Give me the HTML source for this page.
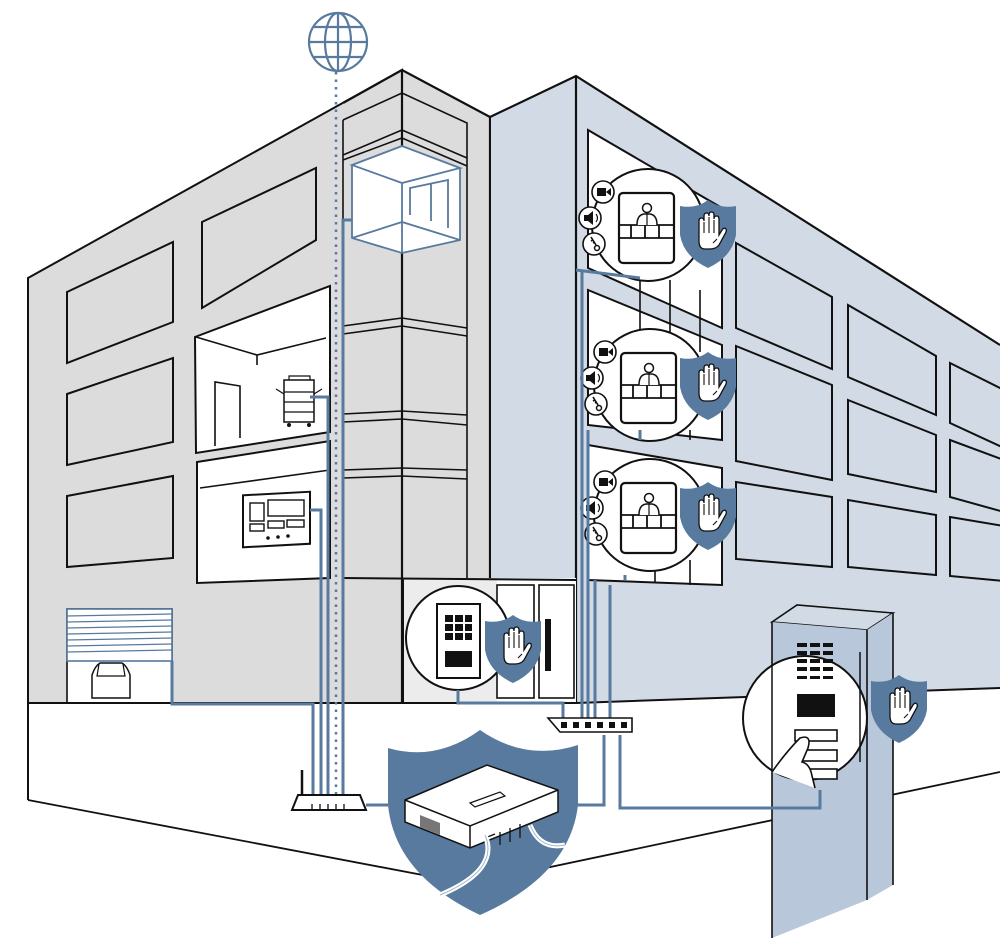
<!DOCTYPE html>
<html><head><meta charset="utf-8"><style>
html,body{margin:0;padding:0;background:#fff;}
svg{display:block;}
</style></head><body>
<svg width="1000" height="938" viewBox="0 0 1000 938" xmlns="http://www.w3.org/2000/svg" font-family="Liberation Sans, sans-serif">
<defs>
<g id="hand">
<path d="M-9,4 L-9,-10 Q-9,-13 -6.5,-13 Q-4,-13 -4,-10 L-4,-15 Q-4,-18 -1.5,-18 Q1,-18 1,-15 L1,-16 Q1,-19 3.5,-19 Q6,-19 6,-16 L6,-12 Q6,-15 8.5,-15 Q11,-15 11,-12 L11,4 L14,-1 Q16,-4 18,-2 Q19,0 17,3 L11,14 Q8,18 2,18 L-3,18 Q-9,18 -9,10 Z" fill="#fff" stroke="#111" stroke-width="1.3"/>
<path d="M-4,-9 L-4,2 M1,-14 L1,2 M6,-11 L6,2 M5,12 L9,8" stroke="#111" stroke-width="1.1" fill="none"/>
</g>
<g id="shield">
<path d="M-28,-27 Q-12,-24 0,-33 Q12,-24 28,-27 L28,2 Q24,24 0,35 Q-24,24 -28,2 Z" fill="#587a9f"/>
</g>
<g id="unit">
<circle r="56" fill="#fff" stroke="#111" stroke-width="2"/>
<rect x="-29" y="-32" width="55" height="70" rx="4" fill="#fff" stroke="#111" stroke-width="2.2"/>
<path d="M-29,0 L26,0 M-29,13 L26,13 M-17,0 L-17,13 M-3,0 L-3,13 M11,0 L11,13" stroke="#111" stroke-width="1.8" fill="none"/>
<circle cx="-1" cy="-17" r="4.5" fill="#fff" stroke="#111" stroke-width="1.5"/>
<path d="M-11,0 Q-11,-10 -4,-11 L2,-11 Q9,-10 9,0" fill="#fff" stroke="#111" stroke-width="1.5"/>
<path d="M-1,-12 L-1,0" stroke="#111" stroke-width="1.2"/>
<circle cx="-45" cy="-33" r="11" fill="#fff" stroke="#111" stroke-width="1.6"/>
<rect x="-51" y="-37" width="9" height="8" fill="#111"/><path d="M-42,-33 L-37,-37 L-37,-29 Z" fill="#111"/>
<circle cx="-58" cy="-7" r="11" fill="#fff" stroke="#111" stroke-width="1.6"/>
<path d="M-64,-10 L-60,-10 L-55,-14 L-55,0 L-60,-4 L-64,-4 Z" fill="#111"/><path d="M-52,-11 Q-49,-7 -52,-3" stroke="#111" fill="none" stroke-width="1.2"/>
<circle cx="-54" cy="19" r="11" fill="#fff" stroke="#111" stroke-width="1.6"/>
<path d="M-57,12 L-52,20 M-57,16 L-55,15 M-55,18 L-53,17" stroke="#111" stroke-width="1.6" fill="none"/><circle cx="-51" cy="23" r="2.5" fill="none" stroke="#111" stroke-width="1.5"/>
</g>
</defs>

<polygon points="28,278 402,70 402,703 28,703" fill="#dcdcdc" stroke="#111" stroke-width="2"/>
<polygon points="343,103 402,70 490,117 490,703 343,703" fill="#dcdcdc"/>
<path d="M343,103 L402,70 L490,117 M402,70 L402,703 M490,117 L490,578" stroke="#111" stroke-width="2.2" fill="none"/>
<path d="M343,120 L402,93 L467,123 L467,578 M343,120 L343,578" stroke="#111" stroke-width="1.6" fill="none"/>
<path d="M343,155 L402,130 L467,158 M343,160 L402,138 L467,166" stroke="#111" stroke-width="1.6" fill="none"/>
<path d="M343,326 L402,318 L467,328 M343,334 L402,326 L467,336" stroke="#111" stroke-width="1.6" fill="none"/>
<path d="M343,414 L402,411 L467,415 M343,422 L402,419 L467,425" stroke="#111" stroke-width="1.6" fill="none"/>
<path d="M343,470 L402,468 L467,470 M343,478 L402,476 L467,479" stroke="#111" stroke-width="1.6" fill="none"/>
<polygon points="352,165 402,146 460,168 460,240 402,253 352,238" fill="#fff"/>
<path d="M352,165 L402,146 L460,168 L402,183 Z M352,165 L352,238 L402,253 L460,240 L460,168 M402,183 L402,253 M352,238 L402,222 L460,240" stroke="#587a9f" stroke-width="1.8" fill="none"/>
<path d="M410,215 L410,188 L448,180 L448,228 M431,184 L431,221" stroke="#587a9f" stroke-width="1.8" fill="none"/>

<polygon points="490,117 576,76 1000,345 1000,688 576,703 490,703" fill="#d2dbe5"/>
<path d="M490,117 L576,76 L1000,345 M576,76 L576,703" stroke="#111" stroke-width="2.2" fill="none"/>
<path d="M490,117 L490,703" stroke="#111" stroke-width="2"/>

<g fill="none" stroke="#111" stroke-width="2">
<polygon points="67,292 173,242 173,322 67,363"/>
<polygon points="202,222 316,168 316,240 202,308"/>
<polygon points="67,394 173,358 173,442 67,465"/>
<polygon points="67,496 173,476 173,558 67,567"/>
</g>
<polygon points="195,337 330,286 330,432 196,453" fill="#fff" stroke="#111" stroke-width="2"/>
<path d="M196,337 L257,355 L326,338 M257,355 L257,365" stroke="#111" stroke-width="1.6" fill="none"/>
<path d="M215,446 L215,382 L240,386 L240,438" stroke="#111" stroke-width="1.6" fill="none"/>
<rect x="284" y="380" width="30" height="42" fill="#fff" stroke="#111" stroke-width="1.5"/>
<path d="M284,392 L314,392 M284,402 L314,402 M284,412 L314,412 M289,380 L289,376 L310,376 L310,380 M276,389 L284,394 M322,389 L314,394" stroke="#111" stroke-width="1.2" fill="none"/>
<circle cx="289" cy="425" r="2" fill="#111"/><circle cx="309" cy="425" r="2" fill="#111"/>
<polygon points="197,462 330,441 330,578 197,583" fill="#fff" stroke="#111" stroke-width="2"/>
<path d="M200,488 L330,470" stroke="#111" stroke-width="1.6"/>
<rect x="243" y="494" width="67" height="52" fill="#fff" stroke="#111" stroke-width="2" transform="skewY(-3) translate(0,14)"/>
<rect x="250" y="503" width="14" height="18" fill="none" stroke="#111" stroke-width="1.4"/>
<rect x="268" y="500" width="36" height="16" fill="none" stroke="#111" stroke-width="1.4"/>
<rect x="250" y="524" width="14" height="7" fill="none" stroke="#111" stroke-width="1.4"/>
<rect x="268" y="521" width="16" height="7" fill="none" stroke="#111" stroke-width="1.4"/>
<rect x="287" y="520" width="17" height="7" fill="none" stroke="#111" stroke-width="1.4"/>
<circle cx="268" cy="538" r="1.8" fill="#111"/><circle cx="278" cy="537" r="1.8" fill="#111"/><circle cx="288" cy="536" r="1.8" fill="#111"/>
<rect x="67" y="609" width="105" height="94" fill="#fff" stroke="#111" stroke-width="1.6"/>
<rect x="67" y="609" width="105" height="52" fill="#fff" stroke="#587a9f" stroke-width="1.6"/>
<g stroke="#587a9f" stroke-width="1.3">
<line x1="67" y1="616" x2="172" y2="614"/><line x1="67" y1="622" x2="172" y2="620"/><line x1="67" y1="628" x2="172" y2="626"/><line x1="67" y1="634" x2="172" y2="632"/><line x1="67" y1="640" x2="172" y2="638"/><line x1="67" y1="646" x2="172" y2="644"/><line x1="67" y1="652" x2="172" y2="650"/>
</g>
<path d="M92,698 L92,675 Q95,666 100,663 L122,663 Q127,666 130,675 L130,698 Z" fill="#fff" stroke="#111" stroke-width="1.5"/>
<path d="M99,664 L97,676 L125,676 L123,664" fill="none" stroke="#111" stroke-width="1.2"/>

<g fill="none" stroke="#111" stroke-width="2">
<polygon points="736,243 832,297 832,369 736,328"/>
<polygon points="736,346 832,385 832,480 736,461"/>
<polygon points="736,482 832,497 832,567 736,559"/>
<polygon points="848,305 936,356 936,415 848,377"/>
<polygon points="848,400 936,435 936,492 848,474"/>
<polygon points="848,500 936,515 936,575 848,567"/>
<polygon points="950,363 1004,390 1004,448 950,423"/>
<polygon points="950,440 1004,460 1004,512 950,497"/>
<polygon points="950,517 1004,526 1004,581 950,576"/>
</g>
<g fill="#fff" stroke="#111" stroke-width="2">
<polygon points="588,130 722,208 722,328 588,268"/>
<polygon points="588,290 722,345 722,440 588,425"/>
<polygon points="588,445 722,468 722,585 588,580"/>
</g>
<path d="M640,280 L640,330 M670,280 L670,345 M700,290 L700,352 M660,430 L660,440 M690,430 L690,440 M655,560 L655,583 M690,560 L690,585" stroke="#111" stroke-width="1.6"/>
<use href="#unit" x="648" y="225"/>
<use href="#unit" x="650" y="385"/>
<use href="#unit" x="650" y="515"/>
<use href="#shield" x="708" y="233"/><use href="#hand" x="708" y="231"/>
<use href="#shield" x="708" y="385"/><use href="#hand" x="708" y="383"/>
<use href="#shield" x="708" y="515"/><use href="#hand" x="708" y="513"/>

<rect x="403" y="578" width="94" height="125" fill="#ececec"/>
<rect x="497" y="578" width="79" height="125" fill="#fff"/>
<path d="M343,578 L576,580 M403,578 L403,703" stroke="#111" stroke-width="2" fill="none"/>
<rect x="497" y="585" width="37" height="113" fill="#fff" stroke="#111" stroke-width="1.6"/>
<rect x="539" y="585" width="35" height="113" fill="#fff" stroke="#111" stroke-width="1.6"/>
<rect x="545" y="619" width="6" height="52" fill="#111"/>
<circle cx="458" cy="638" r="52" fill="#fff" stroke="#111" stroke-width="2"/>
<rect x="437" y="604" width="43" height="74" fill="#fff" stroke="#111" stroke-width="2"/>
<g fill="#111"><rect x="445" y="615" width="8" height="7"/><rect x="455" y="615" width="8" height="7"/><rect x="465" y="615" width="7" height="7"/><rect x="445" y="624" width="8" height="7"/><rect x="455" y="624" width="8" height="7"/><rect x="465" y="624" width="7" height="7"/><rect x="445" y="633" width="8" height="7"/><rect x="455" y="633" width="8" height="7"/><rect x="465" y="633" width="7" height="7"/><rect x="445" y="651" width="27" height="16"/></g>
<use href="#shield" x="513" y="648"/><use href="#hand" x="513" y="646"/>

<rect x="28" y="703" width="972" height="235" fill="#fff"/>
<path d="M28,703 L28,800 M28,703 L576,703 L1000,688" stroke="#111" stroke-width="2" fill="none"/>
<path d="M28,800 L470,884 M470,884 L1000,772" stroke="#111" stroke-width="1.8" fill="none"/>

<g stroke="#587a9f" stroke-width="3" fill="none">
<path d="M172,661 L172,704 L313,704 L313,800"/>
<path d="M310,510 L321,510 L321,800"/>
<path d="M310,397 L328,397 L328,800"/>
<path d="M352,220 L343,220 L343,800"/>
<path d="M576,270 L640,278 M582,270 L582,718"/>
<path d="M588,430 L588,718 M640,430 L640,440"/>
<path d="M595,580 L595,718 M610,585 L610,718 M625,575 L625,580"/>
<path d="M458,690 L458,703 L563,703 L563,718"/>
<path d="M604,735 L604,805 L572,805"/>
<path d="M620,735 L620,808 L820,808 L820,790"/>
<path d="M366,805 L392,805"/>
</g>
<path d="M336,72 L336,808" stroke="#587a9f" stroke-width="2.5" stroke-dasharray="2.5,5" fill="none"/>

<g stroke="#587a9f" stroke-width="2.2" fill="#fff">
<circle cx="338" cy="42" r="29"/>
<ellipse cx="338" cy="42" rx="13" ry="29" fill="none"/>
<path d="M338,13 L338,71 M309,42 L367,42 M314,27 L362,27 M314,57 L362,57" fill="none"/>
</g>

<path d="M292,810 L298,795 L360,795 L366,810 Z" fill="#fff" stroke="#111" stroke-width="2"/>
<path d="M302,795 L302,770" stroke="#111" stroke-width="2.5"/>
<path d="M312,810 L312,804 M320,810 L320,804 M328,810 L328,804 M336,810 L336,804 M344,810 L344,804" stroke="#111" stroke-width="1.3"/>

<path d="M548,718 L632,718 L632,732 L560,732 Z" fill="#fff" stroke="#111" stroke-width="1.6"/>
<g fill="#111"><rect x="561" y="722" width="6" height="6"/><rect x="573" y="722" width="6" height="6"/><rect x="585" y="722" width="6" height="6"/><rect x="597" y="722" width="6" height="6"/><rect x="609" y="722" width="6" height="6"/><rect x="621" y="722" width="6" height="6"/></g>

<path d="M388,748 Q436,762 480,730 Q526,762 578,745 L578,805 Q570,875 480,915 Q395,875 388,805 Z" fill="#587a9f"/>
<path d="M405,800 L487,765 L558,790 L558,812 L470,848 L405,822 Z" fill="#fff" stroke="#111" stroke-width="1.5"/>
<path d="M405,800 L470,826 L558,790 M470,826 L470,848" stroke="#111" stroke-width="1.5" fill="none"/>
<path d="M470,803 L500,792 L505,796 L475,807 Z" fill="none" stroke="#111" stroke-width="1.2"/>
<path d="M420,815 L440,823 L440,835 L420,827 Z" fill="#777"/>
<path d="M485,838 L495,834 M500,832 L500,845 M510,828 L510,842 M520,824 L520,838" stroke="#111" stroke-width="1.3"/>
<path d="M485,835 Q500,870 440,895" stroke="#fff" stroke-width="5" fill="none"/>
<path d="M530,825 Q540,850 565,845" stroke="#fff" stroke-width="5" fill="none"/>
<path d="M485,835 Q500,870 440,895 M530,825 Q540,850 565,845" stroke="#9fb3c9" stroke-width="1" fill="none"/>

<polygon points="772,622 797,605 893,613 867,630" fill="#d2dbe5" stroke="#111" stroke-width="1.6"/>
<polygon points="772,622 867,630 867,900 772,938" fill="#b8c8da"/>
<polygon points="867,630 893,613 893,885 867,900" fill="#b8c8da"/>
<path d="M772,622 L772,938 M867,630 L867,900 M893,613 L893,885" stroke="#111" stroke-width="1.6" fill="none"/>
<path d="M620,808 L820,808 L820,790" stroke="#587a9f" stroke-width="3" fill="none"/>
<circle cx="805" cy="718" r="62" fill="#fff" stroke="#111" stroke-width="2"/>
<path d="M772,665 L772,770 M860,652 L860,762" stroke="#111" stroke-width="1.5"/>
<g fill="#111">
<rect x="797" y="643" width="10" height="4"/><rect x="810" y="643" width="10" height="4"/><rect x="823" y="643" width="10" height="4"/>
<rect x="797" y="651" width="10" height="4"/><rect x="810" y="651" width="10" height="4"/><rect x="823" y="651" width="10" height="4"/>
<rect x="797" y="659" width="10" height="4"/><rect x="810" y="659" width="10" height="4"/><rect x="823" y="659" width="10" height="4"/>
<rect x="797" y="667" width="10" height="4"/><rect x="810" y="667" width="10" height="4"/><rect x="823" y="667" width="10" height="4"/>
<rect x="797" y="676" width="10" height="3"/><rect x="810" y="676" width="10" height="3"/><rect x="823" y="676" width="10" height="3"/>
<rect x="797" y="694" width="38" height="23"/>
</g>
<rect x="795" y="730" width="42" height="11" fill="#fff" stroke="#111" stroke-width="1.6"/>
<rect x="797" y="750" width="40" height="11" fill="#fff" stroke="#111" stroke-width="1.6"/>
<rect x="808" y="769" width="29" height="10" fill="#fff" stroke="#111" stroke-width="1.6"/>
<path d="M772,772 Q786,752 800,738 Q812,734 808,748 L802,762 Q810,764 812,776 L815,788" fill="#fff" stroke="#111" stroke-width="1.6"/>
<use href="#shield" x="899" y="708"/><use href="#hand" x="899" y="706"/>
</svg>
</body></html>
